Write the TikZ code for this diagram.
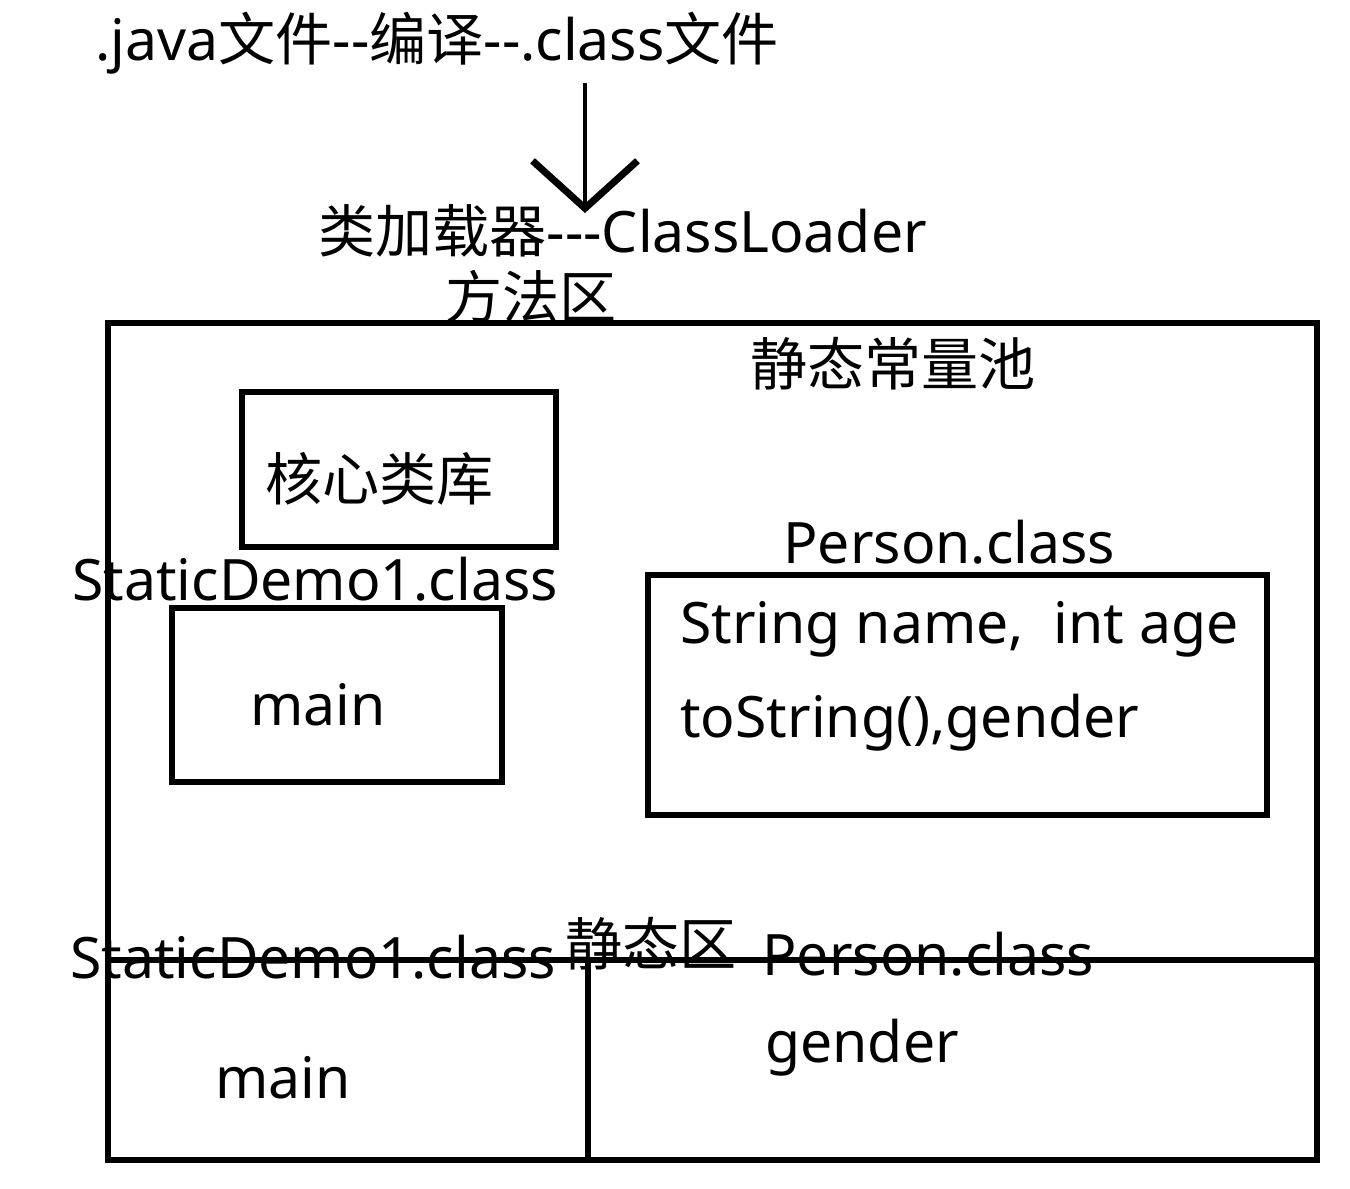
\documentclass[tikz,border=0pt]{standalone}
\usepackage{fontspec}
\setmainfont{Noto Sans}[Ligatures=TeXOff]
\newfontfamily\cjk{Noto Sans CJK SC}[Ligatures=TeXOff]
\usetikzlibrary{arrows.meta}
\tikzset{
  lbl/.style={inner sep=0pt, anchor=base west, font=\fontsize{32.5}{38}\selectfont},
  frame/.style={line width=0.105cm, draw=black},
}
\begin{document}
\begin{tikzpicture}[x=0.02cm,y=-0.02cm]
\useasboundingbox[fill=white] (0,0) rectangle (1350,1188);
% texts
\node[lbl] (top) at (95,60) {.java{\cjk 文件}--{\cjk 编译}--.class{\cjk 文件}};
\node[lbl] (loader) at (318,252) {{\cjk 类加载器}---ClassLoader};
\node[lbl] (method) at (445,318) {\cjk 方法区};
\node[lbl] (pool) at (750,385) {\cjk 静态常量池};
\node[lbl] (core) at (265,500) {\cjk 核心类库};
\node[lbl] (sd1) at (72,600) {StaticDemo1.class};
\node[lbl] (main1) at (250,725) {main};
\node[lbl] (pc1) at (783,563) {Person.class};
\node[lbl] (f1) at (680,643) {String name,\ \ int age};
\node[lbl] (f2) at (680,737) {toString(),gender};
\node[lbl] (sd2) at (70,978) {StaticDemo1.class};
\node[lbl] (sarea) at (565,965) {\cjk 静态区};
\node[lbl] (pc2) at (762,975) {Person.class};
\node[lbl] (gender) at (765,1062) {gender};
\node[lbl] (main2) at (215,1098) {main};
% boxes
\draw[frame] (108,323) rectangle (1317,1160);
\draw[frame] (242,392) rectangle (556,547);
\draw[frame] (172,608) rectangle (502,782);
\draw[frame] (648,575) rectangle (1267,815);
\coordinate (hl) at (108,960);
\coordinate (hr) at (1317,960);
\coordinate (vt) at (588,960);
\coordinate (vb) at (588,1160);
\draw[frame] (hl) -- (hr);
\draw[frame] (vt) -- (vb);
% arrow
\coordinate (a1) at (585,83);
\coordinate (a2) at (585,213);
\draw[line width=0.08cm, -{Straight Barb[length=0.95cm, width=2.1cm, line width=0.14cm]}] (a1) -- (a2);
\end{tikzpicture}
\end{document}
